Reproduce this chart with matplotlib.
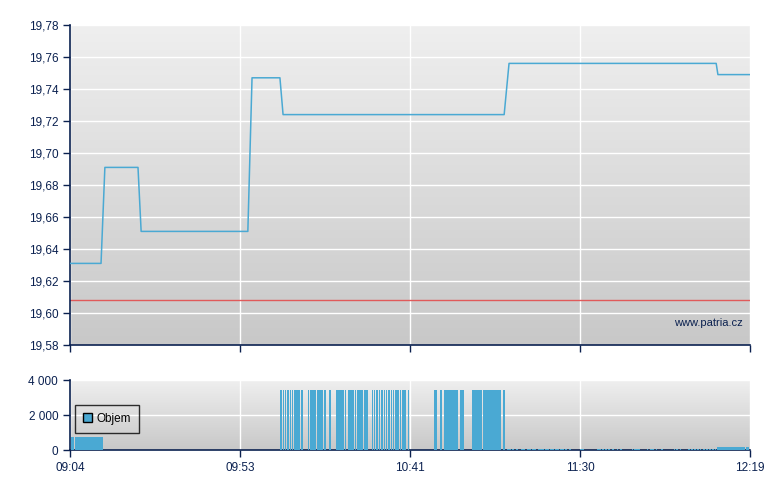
import numpy as np
import matplotlib.pyplot as plt
from matplotlib.colors import LinearSegmentedColormap
from matplotlib.patches import Patch

plt.rcParams['font.family'] = ['Liberation Sans', 'DejaVu Sans']

# price line: minutes after 09:04 and price
price_t = [0, 8.9, 10.0, 19.5, 20.4, 51.0, 52.2, 60.2, 61.1, 124.5, 125.9, 185.3, 185.8, 195]
price_v = [19.631, 19.631, 19.691, 19.691, 19.651, 19.651, 19.747, 19.747,
           19.724, 19.724, 19.756, 19.756, 19.749, 19.749]
ref_price = 19.608

# volume bars (minutes after 09:04)
vol_early_t = [0.6, 1.1, 1.7, 2.3, 2.9, 3.4, 4.0, 4.6, 5.2, 5.7, 6.3, 6.9, 7.5, 8.0, 8.6, 9.2]
vol_early = 750
vol_big_t = [60.5, 61.2, 61.8, 62.5, 63.2, 63.9, 64.5, 65.1, 65.7, 66.5,
             68.4, 69.1, 69.7, 70.3, 71.1, 71.7, 72.3, 73.1, 74.6,
             76.6, 77.1, 77.7, 78.3, 79.1, 80.0, 80.6, 81.2, 81.9, 82.6, 83.2, 83.7, 84.6, 85.2,
             86.7, 87.4, 88.0, 88.7, 89.5, 90.2, 90.8, 91.5, 92.1, 92.8, 93.5, 94.1, 94.8, 95.5, 96.1, 97.0,
             104.5, 105.0, 106.4, 107.5, 108.1, 108.7, 109.3, 109.8, 110.4, 111.0, 112.1, 112.7,
             115.6, 116.1, 116.7, 117.3, 117.6, 118.1, 118.7, 119.3, 119.9, 120.2, 120.7,
             121.3, 121.9, 122.2, 122.7, 123.3, 124.5]
vol_big = 3450
vol_small_t = [125.6, 126.2, 127.0, 128.2, 129.6, 130.2, 131.3, 131.9, 132.8, 133.3, 134.5, 135.1,
               135.6, 136.5, 137.1, 137.9, 138.5, 139.4, 139.9, 140.8, 141.4, 142.2, 143.4, 146.5,
               147.1, 151.4, 152.0, 152.8, 153.7, 154.6, 155.7, 157.1, 158.0, 161.4, 162.0, 162.6,
               163.2, 165.7, 166.6, 167.2, 168.1, 169.8, 173.3, 174.1, 175.0, 177.5, 178.4, 179.2,
               180.1, 180.9, 181.8, 182.7, 183.5, 184.4, 185.2]
vol_small = 80
vol_end_t = [185.8, 186.4, 187.0, 187.5, 188.1, 188.7, 189.3, 189.8, 190.4, 191.0, 191.6,
             192.1, 192.7, 193.3, 193.9, 194.4]
vol_end = 150

tick_labels = ['09:04', '09:53', '10:41', '11:30', '12:19']
price_ticks = [19.58, 19.60, 19.62, 19.64, 19.66, 19.68, 19.70, 19.72, 19.74, 19.76, 19.78]
vol_ticks = [0, 2000, 4000]
vol_tick_labels = ['0', '2 000', '4 000']

navy = '#0b2150'
blue = '#4aa9d3'
grad = LinearSegmentedColormap.from_list('g', ['#c8c8c8', '#efefef'])

fig = plt.figure(figsize=(7.8, 4.9), dpi=100)
ax = fig.add_axes([70/780, 1-345/490, 680/780, 320/490])
axv = fig.add_axes([70/780, 1-450/490, 680/780, 70/490])

xt = np.linspace(0, 195, 5)
for a in (ax, axv):
    a.imshow(np.linspace(0, 1, 256).reshape(-1, 1), cmap=grad, origin='lower',
             extent=[0, 1, 0, 1], transform=a.transAxes, aspect='auto', zorder=0)
    a.set_xlim(0, 195)
    a.set_xticks(xt)
    a.grid(True, color='white', linewidth=1, zorder=1)
    a.set_axisbelow(True)
    for s in ('top', 'right'):
        a.spines[s].set_visible(False)
    for s in ('left', 'bottom'):
        a.spines[s].set_color(navy)
        a.spines[s].set_linewidth(1.2)
    a.tick_params(colors=navy, labelsize=8.5, length=5, width=1, direction='out')

ax.plot(price_t, price_v, color=blue, linewidth=1.1, zorder=3)
ax.axhline(ref_price, color='#e05a5a', linewidth=1, zorder=2)
ax.set_ylim(19.58, 19.78)
ax.set_yticks(price_ticks)
ax.set_yticklabels([f'{v:.2f}'.replace('.', ',') for v in price_ticks])
ax.set_xticklabels([])
ax.text(0.99, 0.07, 'www.patria.cz', transform=ax.transAxes, ha='right', va='center',
        color=navy, fontsize=8)

bw = 0.38
for t, v in ((vol_early_t, vol_early), (vol_big_t, vol_big),
             (vol_small_t, vol_small), (vol_end_t, vol_end)):
    axv.bar(t, [v] * len(t), width=bw, color=blue, linewidth=0, zorder=3)
axv.set_ylim(0, 4000)
axv.set_yticks(vol_ticks)
axv.set_yticklabels(vol_tick_labels)
axv.set_xticklabels(tick_labels)

leg = axv.legend(handles=[Patch(facecolor=blue, edgecolor='black', label='Objem')],
                 loc='upper left', bbox_to_anchor=(0.007, 0.65), fontsize=8.5,
                 fancybox=False, facecolor='none', edgecolor='black',
                 handlelength=0.75, handleheight=0.75, handletextpad=0.4,
                 borderpad=0.7, borderaxespad=0)
leg.get_frame().set_linewidth(1)

fig.savefig('out.png', dpi=100)
